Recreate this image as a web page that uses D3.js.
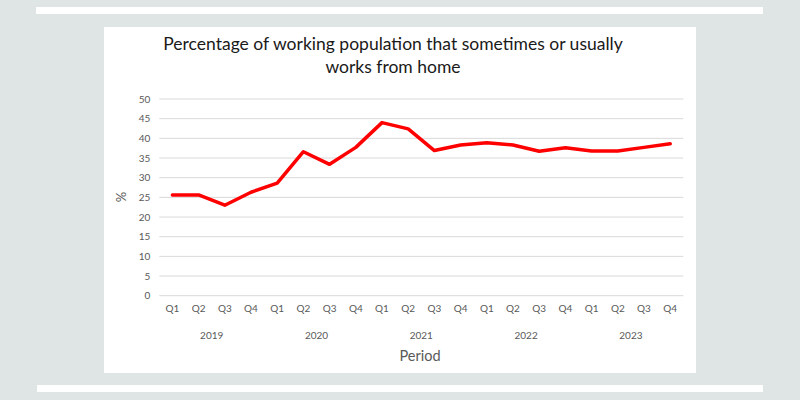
<!DOCTYPE html>
<html><head><meta charset="utf-8">
<script src="https://cdn.jsdelivr.net/npm/d3@7"></script>
<style>body{margin:0;background:#dfe4e4;}svg{display:block;}</style>
</head><body>
<svg id="c" width="800" height="400"></svg>
<script>
const years = ["2019","2020","2021","2022","2023"];
const quarters = ["Q1","Q2","Q3","Q4"];
const values = [25.6,25.6,23.0,26.3, 28.6,36.6,33.4,37.7, 44.0,42.4,36.9,38.3, 38.9,38.3,36.7,37.6, 36.8,36.8,37.7,38.6];
const yTicks = [0,5,10,15,20,25,30,35,40,45,50];
const title = ["Percentage of working population that sometimes or usually","works from home"];

const periods = [];
years.forEach(y => quarters.forEach(q => periods.push(y + " " + q)));

const svg = d3.select("#c");
svg.append("rect").attr("x",36).attr("y",7).attr("width",727).attr("height",7).attr("fill","#fff");
svg.append("rect").attr("x",37).attr("y",385).attr("width",726).attr("height",7).attr("fill","#fff");
svg.append("rect").attr("x",104).attr("y",27).attr("width",592).attr("height",346).attr("fill","#fff");

const x = d3.scaleBand().domain(periods).range([159.3,683.3]);
const y = d3.scaleLinear().domain([0,50]).range([295.7,99]);

const font = "Lato, 'Open Sans', sans-serif";
const g = svg.append("g");
g.selectAll("line.grid").data(yTicks).join("line")
  .attr("x1",159.3).attr("x2",683.3)
  .attr("y1",d=>y(d)).attr("y2",d=>y(d))
  .attr("stroke","#d9d9d9").attr("stroke-width",1);

const yAxis = d3.axisLeft(y).tickValues(yTicks).tickSize(0).tickPadding(9);
svg.append("g").attr("transform","translate(159.3,0)").call(yAxis)
  .call(s=>s.select(".domain").remove())
  .selectAll("text").attr("font-family",font).attr("font-size",10).attr("fill","#595959");

const xAxis = d3.axisBottom(x).tickSize(0).tickPadding(0).tickFormat(d=>d.split(" ")[1]);
svg.append("g").attr("transform","translate(0,305)").call(xAxis)
  .call(s=>s.select(".domain").remove())
  .selectAll("text").attr("font-family",font).attr("font-size",10).attr("fill","#595959");

svg.selectAll("text.year").data(years).join("text").attr("class","year")
  .attr("x",yr => (x(yr+" Q1") + x(yr+" Q4") + x.bandwidth())/2)
  .attr("y",339).attr("text-anchor","middle")
  .attr("font-family",font).attr("font-size",10).attr("fill","#595959").text(d=>d);

const line = d3.line().x((d,i)=>x(periods[i])+x.bandwidth()/2).y(d=>y(d));
svg.append("path").datum(values).attr("d",line)
  .attr("fill","none").attr("stroke","#ff0000").attr("stroke-width",3.5)
  .attr("stroke-linejoin","round").attr("stroke-linecap","round");

svg.selectAll("text.title").data(title).join("text").attr("class","title")
  .attr("x",393).attr("y",(d,i)=>50+i*23).attr("text-anchor","middle")
  .attr("font-family",font).attr("font-size",17.5).attr("fill","#1a1a1a").text(d=>d);

svg.append("text").attr("x",420).attr("y",361).attr("text-anchor","middle")
  .attr("font-family",font).attr("font-size",14.5).attr("fill","#595959").text("Period");
svg.append("text").attr("transform","translate(126,197) rotate(-90)").attr("text-anchor","middle")
  .attr("font-family",font).attr("font-size",13).attr("fill","#595959").text("%");
</script>
</body></html>
